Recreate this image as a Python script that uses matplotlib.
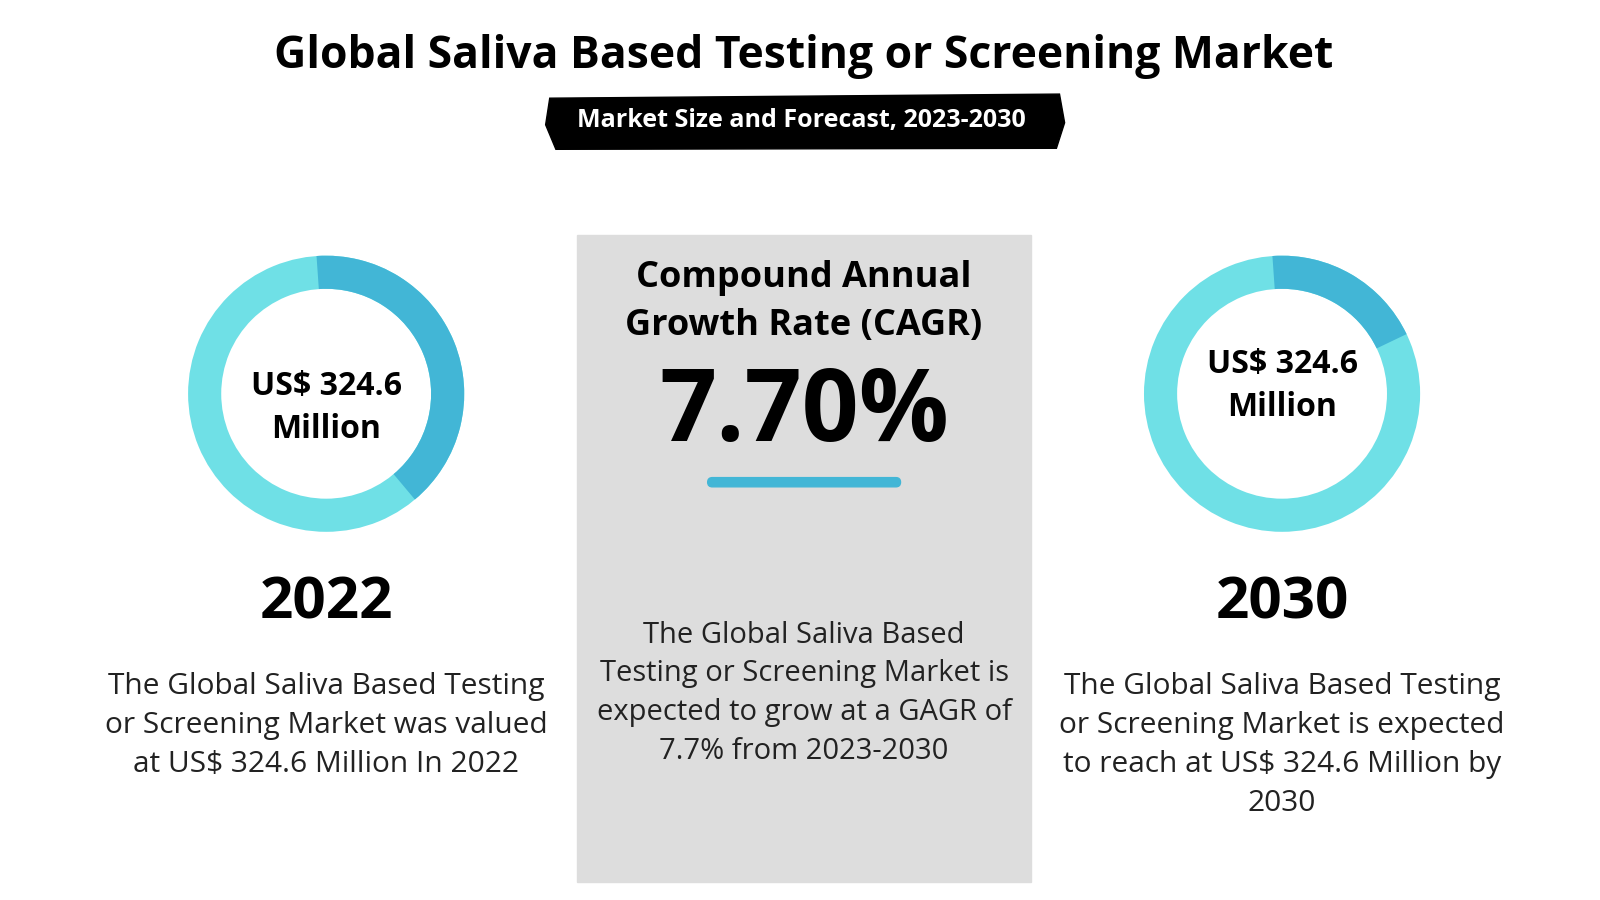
import matplotlib
matplotlib.use("Agg")
import matplotlib.pyplot as plt
from matplotlib.patches import Rectangle, Polygon, FancyBboxPatch

plt.rcParams["font.family"] = "Open Sans"

# Data
years = ["2022", "2030"]
values = ["US$ 324.6\nMillion", "US$ 324.6\nMillion"]
arc_share = [0.40, 0.19]  # share of ring drawn in darker blue
cagr = "7.70%"
descs = [
    "The Global Saliva Based Testing\nor Screening Market was valued\nat US$ 324.6 Million In 2022",
    "The Global Saliva Based Testing\nor Screening Market is expected\nto reach at US$ 324.6 Million by\n2030",
]
mid_desc = ("The Global Saliva Based\nTesting or Screening Market is\n"
            "expected to grow at a GAGR of\n7.7% from 2023-2030")

LIGHT = "#6fe0e6"
DARK = "#42b6d6"

fig = plt.figure(figsize=(16, 9), dpi=100)
ax = fig.add_axes([0, 0, 1, 1])
ax.set_xlim(0, 1560)
ax.set_ylim(880, 0)
ax.axis("off")

ax.text(784, 55, "Global Saliva Based Testing or Screening Market", ha="center",
        va="center", fontsize=32, fontweight="bold")
ax.add_patch(Polygon([[536, 96], [1033, 92], [1038, 120], [1030, 145], [542, 146],
                      [532, 122]], closed=True, color="black"))
ax.text(781, 118, "Market Size and Forecast, 2023-2030", ha="center", va="center",
        fontsize=18, fontweight="bold", color="white")

# center panel
ax.add_patch(Rectangle((563, 230), 442, 632, color="#dddddd"))
ax.text(784, 295, "Compound Annual\nGrowth Rate (CAGR)", ha="center", va="center",
        fontsize=26, fontweight="bold", linespacing=1.45)
ax.text(784, 405, cagr, ha="center", va="center", fontsize=72, fontweight="bold")
ax.add_patch(FancyBboxPatch((690, 467), 188, 9, boxstyle="round,pad=0,rounding_size=4.5",
                            color=DARK))
ax.text(784, 678, mid_desc, ha="center", va="center", fontsize=21, linespacing=1.45,
        color="#222222")

centers = [(318, 385), (1250, 385)]
for (cx, cy), yr, val, share, d in zip(centers, years, values, arc_share, descs):
    h = 135 / 880
    wf = 135 / 1560
    sub = fig.add_axes([cx / 1560 - wf, 1 - cy / 880 - h, 2 * wf, 2 * h])
    sub.pie([1], colors=[LIGHT], radius=1, startangle=90,
            wedgeprops=dict(width=0.24))
    sub.pie([share], colors=[DARK], radius=1, startangle=94, counterclock=False,
            normalize=False, wedgeprops=dict(width=0.24, linewidth=0))
    sub.set_xlim(-1, 1)
    sub.set_ylim(-1, 1)
    sub.set_aspect("equal")
    ax.text(cx, cy + 14 if cx < 600 else cy - 8, val, ha="center", va="center",
            fontsize=23, fontweight="bold", linespacing=1.4)
    ax.text(cx, 590, yr, ha="center", va="center", fontsize=42, fontweight="bold")
    ax.text(cx, 657, d, ha="center", va="top", fontsize=21.5, linespacing=1.45,
            color="#222222")

fig.savefig("out.png", dpi=100)
